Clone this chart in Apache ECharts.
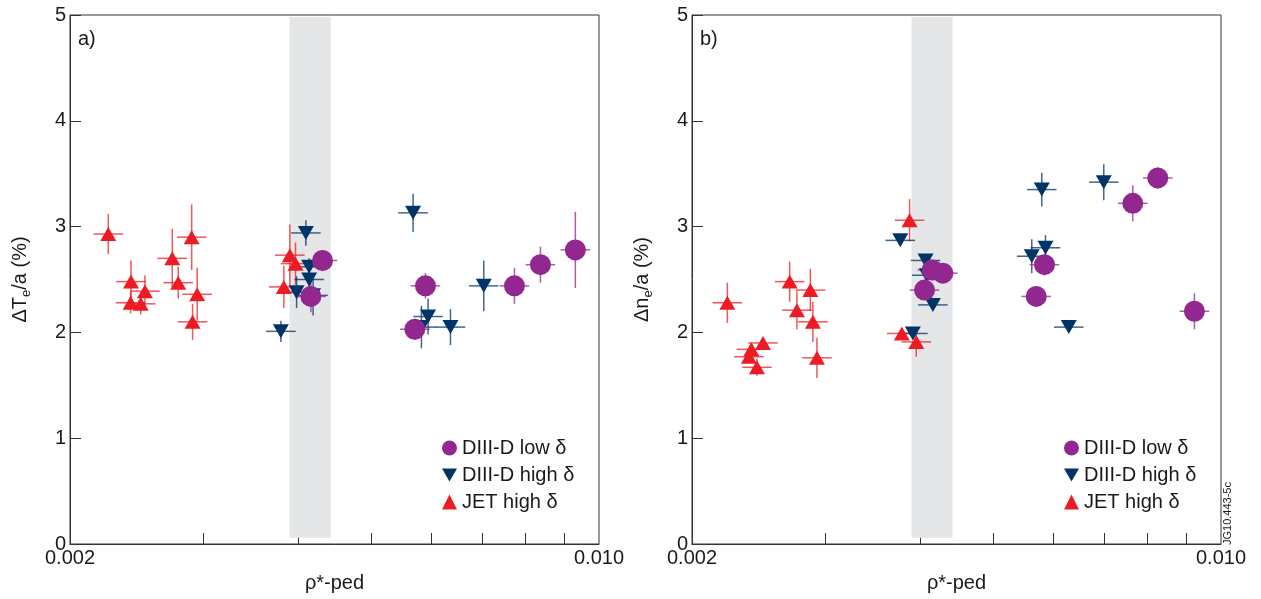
<!DOCTYPE html>
<html>
<head>
<meta charset="utf-8">
<script src="https://cdn.jsdelivr.net/npm/echarts@6/dist/echarts.min.js"></script>
<title>rho*-ped</title>
<style>
  html, body, #main { width: 100%; height: 100%; margin: 0; background: #fff; }
</style>
</head>
<body>
<div id="main"></div>
<script>
// each point: [rho*-ped, value (%), vertical error (%)]
// panel a) : Delta Te / a
var lowA = [
  [0.004312, 2.68, 0.10], [0.004162, 2.34, 0.15], [0.005898, 2.44, 0.12],
  [0.007732, 2.44, 0.17], [0.008368, 2.64, 0.17], [0.009306, 2.78, 0.36],
  [0.005710, 2.03, 0.10]
];
var highA = [
  [0.004099, 2.94, 0.12], [0.004140, 2.62, 0.08], [0.004140, 2.50, 0.10],
  [0.003985, 2.38, 0.15], [0.003799, 2.01, 0.10], [0.004190, 2.35, 0.19],
  [0.005680, 3.13, 0.18], [0.007043, 2.44, 0.24], [0.005945, 2.15, 0.17],
  [0.006364, 2.05, 0.17], [0.005826, 2.05, 0.20]
];
var jetA = [
  [0.002247, 2.93, 0.19], [0.002408, 2.48, 0.20], [0.002512, 2.39, 0.15],
  [0.002405, 2.28, 0.10], [0.002480, 2.27, 0.10], [0.002730, 2.70, 0.28],
  [0.002896, 2.90, 0.31], [0.002780, 2.47, 0.15], [0.002945, 2.36, 0.25],
  [0.002904, 2.10, 0.17], [0.003904, 2.73, 0.29], [0.003972, 2.65, 0.20],
  [0.003833, 2.43, 0.20]
];
// panel b) : Delta ne / a
var lowB = [
  [0.004154, 2.59, 0.08], [0.004290, 2.56, 0.08], [0.004058, 2.40, 0.08],
  [0.007646, 3.22, 0.17], [0.008250, 3.46, 0.10], [0.005845, 2.64, 0.10],
  [0.005700, 2.34, 0.08], [0.009223, 2.20, 0.17]
];
var highB = [
  [0.003769, 2.87, 0.03], [0.004070, 2.68, 0.05], [0.004086, 2.54, 0.05],
  [0.004162, 2.26, 0.04], [0.003916, 1.99, 0.05], [0.005797, 3.35, 0.16],
  [0.007000, 3.42, 0.17], [0.005623, 2.72, 0.16], [0.005863, 2.80, 0.12],
  [0.006293, 2.05, 0.02]
];
var jetB = [
  [0.002227, 2.28, 0.19], [0.002692, 2.48, 0.19], [0.002867, 2.40, 0.20],
  [0.002752, 2.21, 0.18], [0.002889, 2.10, 0.19], [0.002482, 1.90, 0.05],
  [0.002396, 1.84, 0.05], [0.002378, 1.77, 0.06], [0.002437, 1.67, 0.08],
  [0.002925, 1.76, 0.19], [0.003877, 3.06, 0.20], [0.003787, 1.99, 0.05],
  [0.003957, 1.91, 0.14]
];
var xErrFrac = 0.046;          // horizontal error bars, relative
var band = [0.0039, 0.00442];  // shaded rho* band
var bandY = [0.06, 4.98];
var xTicks = [0.003, 0.004, 0.005, 0.006, 0.007, 0.008, 0.009];
var xLabels = [0.002, 0.010];
var xRange = [0.002, 0.010];

var seriesNames = ['DIII-D low \u03b4', 'DIII-D high \u03b4', 'JET high \u03b4'];
var colors = ['#92278f', '#003466', '#ed1c24'];
var FONT = 'Liberation Sans, Arial, sans-serif';

var lg = Math.log10;
var myChart = echarts.init(document.getElementById('main'));

function errBars(color) {
  return function (params, api) {
    var x = api.value(0), y = api.value(1), ey = api.value(2), ex = api.value(3);
    var t = api.coord([x, y + ey]), b = api.coord([x, y - ey]);
    var l = api.coord([x - ex, y]), r = api.coord([x + ex, y]);
    var st = { stroke: color, lineWidth: 1.5, opacity: 0.75 };
    return {
      type: 'group',
      children: [
        { type: 'line', shape: { x1: t[0], y1: t[1], x2: b[0], y2: b[1] }, style: st },
        { type: 'line', shape: { x1: l[0], y1: l[1], x2: r[0], y2: r[1] }, style: st }
      ]
    };
  };
}

function toBars(arr) {
  var ex = lg(1 + xErrFrac);
  return arr.map(function (p) { return [lg(p[0]), p[1], p[2], ex]; });
}
function toPts(arr) {
  return arr.map(function (p) { return [lg(p[0]), p[1]]; });
}

var symbols = [
  { symbol: 'circle', symbolSize: 21, symbolRotate: 0 },
  { symbol: 'triangle', symbolSize: [16, 14], symbolRotate: 180 },
  { symbol: 'triangle', symbolSize: [16, 14], symbolRotate: 0 }
];

var panels = [[lowA, highA, jetA], [lowB, highB, jetB]];
var series = [];
panels.forEach(function (groups, gi) {
  series.push({
    type: 'line', xAxisIndex: gi, yAxisIndex: gi, data: [], z: 1, silent: true,
    markArea: {
      silent: true,
      itemStyle: { color: '#e5e6e8' },
      data: [[{ xAxis: lg(band[0]), yAxis: bandY[0] }, { xAxis: lg(band[1]), yAxis: bandY[1] }]]
    }
  });
  // draw order: JET, DIII-D high, DIII-D low
  [2, 1, 0].forEach(function (k) {
    series.push({
      type: 'custom', name: seriesNames[k], xAxisIndex: gi, yAxisIndex: gi,
      renderItem: errBars(colors[k]), encode: { x: 0, y: 1 }, z: 2,
      itemStyle: { color: colors[k] },
      data: toBars(groups[k]), silent: true
    });
  });
  [2, 1, 0].forEach(function (k) {
    series.push({
      type: 'scatter', name: seriesNames[k], xAxisIndex: gi, yAxisIndex: gi,
      symbol: symbols[k].symbol, symbolSize: symbols[k].symbolSize,
      symbolRotate: symbols[k].symbolRotate, z: 3,
      itemStyle: { color: colors[k], opacity: 1 },
      data: toPts(groups[k])
    });
  });
});

var gridLefts = [70, 692];
var yNames = ['{a|\u0394T}{s|e}{a|/a (%)}', '{a|\u0394n}{s|e}{a|/a (%)}'];

var option = {
  animation: false,
  textStyle: { fontFamily: FONT },
  grid: gridLefts.map(function (l) {
    return { left: l, top: 15, width: 529, height: 529, show: true,
      borderColor: '#333', borderWidth: 1, backgroundColor: 'transparent' };
  }),
  xAxis: gridLefts.map(function (l, i) {
    return {
      type: 'value', gridIndex: i, min: lg(xRange[0]), max: lg(xRange[1]),
      name: '\u03c1*-ped', nameLocation: 'middle', nameGap: 29,
      nameTextStyle: { fontSize: 20, color: '#1a1a1a', fontFamily: FONT },
      splitLine: { show: false },
      axisLine: { show: true, lineStyle: { color: '#333', width: 1 } },
      axisTick: { show: true, inside: true, length: 11, customValues: xTicks.map(lg),
        lineStyle: { color: '#333', width: 1 } },
      axisLabel: { customValues: xLabels.map(lg), fontSize: 20, color: '#1a1a1a', margin: 4,
        fontFamily: FONT,
        formatter: function (v) { return Math.pow(10, v).toFixed(3); } }
    };
  }),
  yAxis: gridLefts.map(function (l, i) {
    return {
      type: 'value', gridIndex: i, min: 0, max: 5, interval: 1,
      name: yNames[i], nameLocation: 'middle', nameGap: 37, nameRotate: 90,
      nameTextStyle: {
        color: '#1a1a1a',
        rich: {
          a: { fontSize: 20, fontFamily: FONT, color: '#1a1a1a', lineHeight: 23, verticalAlign: 'top' },
          s: { fontSize: 13, fontFamily: FONT, color: '#1a1a1a', lineHeight: 13, verticalAlign: 'bottom' }
        }
      },
      splitLine: { show: false },
      axisLine: { show: true, lineStyle: { color: '#333', width: 1 } },
      axisTick: { show: true, inside: true, length: 11, lineStyle: { color: '#333', width: 1 } },
      axisLabel: { fontSize: 20, color: '#1a1a1a', margin: 4, fontFamily: FONT }
    };
  }),
  legend: gridLefts.map(function (l, i) {
    return {
      orient: 'vertical', left: [437, 1059][i], top: 433,
      itemWidth: 15, itemHeight: 15, itemGap: 7, selectedMode: false,
      textStyle: { fontSize: 20, color: '#1a1a1a', fontFamily: FONT, lineHeight: 20 },
      data: [
        { name: seriesNames[0], icon: 'circle', itemStyle: { color: colors[0] } },
        { name: seriesNames[1], icon: 'path://M0,0L16,0L8,14Z', itemStyle: { color: colors[1] } },
        { name: seriesNames[2], icon: 'triangle', itemStyle: { color: colors[2] } }
      ]
    };
  }),
  graphic: [
    { type: 'text', left: 78, top: 29, style: { text: 'a)', fontSize: 20, fill: '#1a1a1a', fontFamily: FONT } },
    { type: 'text', left: 700, top: 29, style: { text: 'b)', fontSize: 20, fill: '#1a1a1a', fontFamily: FONT } },
    { type: 'text', x: 1228, y: 545, rotation: Math.PI / 2,
      style: { text: 'JG10.443-5c', fontSize: 11, fill: '#1a1a1a', fontFamily: FONT,
        align: 'left', verticalAlign: 'middle' } }
  ],
  series: series
};

myChart.setOption(option);
window.onresize = function () { myChart.resize(); };
</script>
</body>
</html>
